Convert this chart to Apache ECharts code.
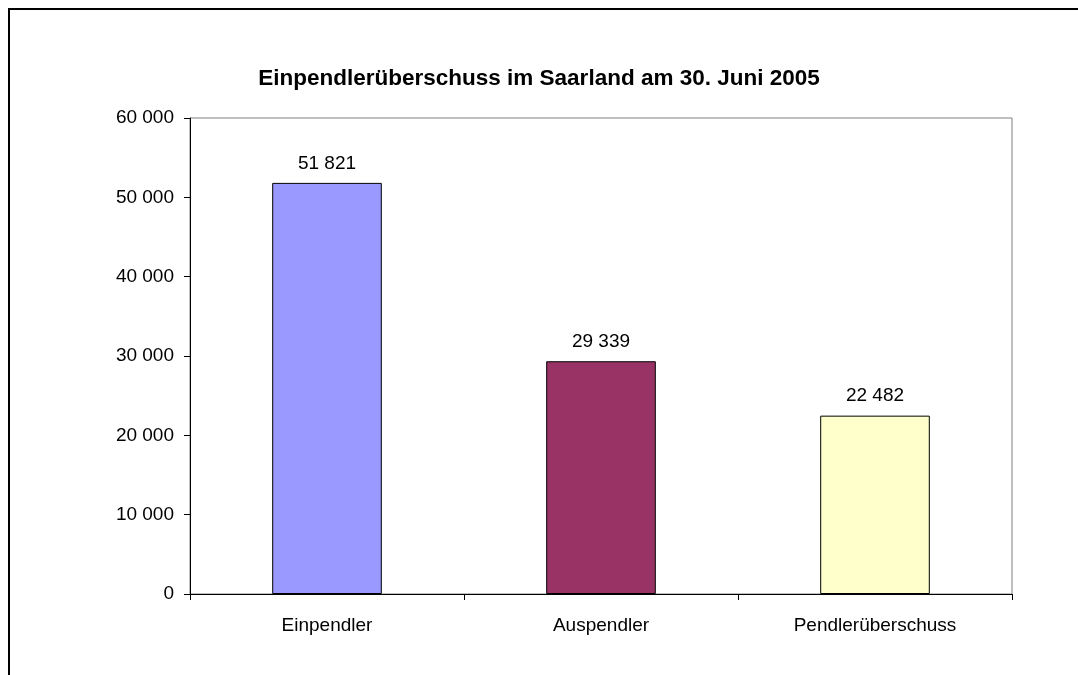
<!DOCTYPE html>
<html>
<head>
<meta charset="utf-8">
<script src="https://cdn.jsdelivr.net/npm/echarts@6/dist/echarts.min.js"></script>
<style>
html,body{margin:0;padding:0;background:#fff;}
#chart{width:1078px;height:675px;}
</style>
</head>
<body>
<div id="chart"></div>
<script>
const titleText = 'Einpendlerüberschuss im Saarland am 30. Juni 2005';
const categories = ['Einpendler', 'Auspendler', 'Pendlerüberschuss'];
const values = [51821, 29339, 22482];
const barColors = ['#9999FF', '#993366', '#FFFFCC'];
const yTicks = [0, 10000, 20000, 30000, 40000, 50000, 60000];

function fmt(v) {
  return String(v).replace(/\B(?=(\d{3})+(?!\d))/g, ' ');
}

const chart = echarts.init(document.getElementById('chart'), null, {renderer: 'canvas'});
const font = 'Liberation Sans, Arial, sans-serif';
chart.setOption({
  animation: false,
  backgroundColor: '#ffffff',
  graphic: [{
    type: 'rect',
    shape: {x: 9, y: 9, width: 1200, height: 800},
    style: {fill: 'none', stroke: '#000', lineWidth: 2},
    silent: true
  }],
  title: {
    text: titleText,
    left: 'center',
    top: 62,
    textStyle: {fontFamily: font, fontSize: 22.5, fontWeight: 'bold', color: '#000'}
  },
  grid: {
    left: 190, right: 66, top: 118, bottom: 81,
    show: true, borderColor: '#808080', borderWidth: 1, backgroundColor: 'transparent'
  },
  xAxis: {
    type: 'category',
    data: categories,
    axisLine: {lineStyle: {color: '#000', width: 1}},
    axisTick: {show: true, alignWithLabel: false, length: 6, lineStyle: {color: '#000'}},
    axisLabel: {fontFamily: font, fontSize: 19, color: '#000', margin: 22}
  },
  yAxis: {
    type: 'value',
    min: yTicks[0],
    max: yTicks[yTicks.length - 1],
    interval: yTicks[1] - yTicks[0],
    splitLine: {show: false},
    axisLine: {show: true, lineStyle: {color: '#000', width: 1}},
    axisTick: {show: true, length: 6, lineStyle: {color: '#000'}},
    axisLabel: {fontFamily: font, fontSize: 19, color: '#000', margin: 16, formatter: v => fmt(v)}
  },
  series: [{
    type: 'bar',
    barWidth: '40%',
    data: values.map((v, i) => ({value: v, itemStyle: {color: barColors[i]}})),
    itemStyle: {borderColor: '#000', borderWidth: 1},
    label: {
      show: true, position: 'top', distance: 10,
      fontFamily: font, fontSize: 19, color: '#000',
      formatter: p => fmt(p.value)
    }
  }]
});
</script>
</body>
</html>
